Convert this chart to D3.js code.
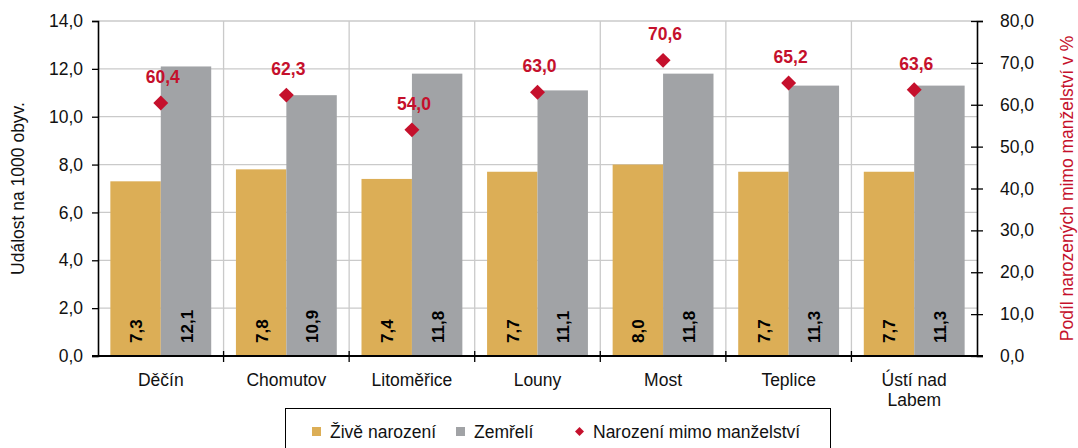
<!DOCTYPE html>
<html><head><meta charset="utf-8">
<script src="https://cdn.jsdelivr.net/npm/d3@7"></script>
<style>
body{margin:0;background:#fff;}
svg{display:block;font-family:"Liberation Sans",Arial,sans-serif;}
</style></head>
<body><svg id="c" width="1078" height="448"></svg>
<script>
const categories = ["Děčín","Chomutov","Litoměřice","Louny","Most","Teplice","Ústí nad Labem"];
const births = [7.3,7.8,7.4,7.7,8.0,7.7,7.7];
const deaths = [12.1,10.9,11.8,11.1,11.8,11.3,11.3];
const outsideMarriage = [60.4,62.3,54.0,63.0,70.6,65.2,63.6];
const leftTicks = [0,2,4,6,8,10,12,14];
const rightTicks = [0,10,20,30,40,50,60,70,80];
const seriesNames = ["Živě narození","Zemřelí","Narození mimo manželství"];

const colGold = "#dcae56", colGray = "#a1a3a6", colRed = "#c5102c";
const fmt = v => v.toFixed(1).replace(".", ",");
const FS = 17.5;

const svg = d3.select("#c");
const L = 98, R = 977, T = 21, B = 356;

const x = d3.scaleBand().domain(categories).range([L, R]).paddingInner(0).paddingOuter(0);
const xs = d3.scaleBand().domain(["b","d"]).range([0, x.bandwidth()]).paddingInner(0).paddingOuter(0.245);
const yL = d3.scaleLinear().domain([0,14]).range([B, T]);
const yR = d3.scaleLinear().domain([0,80]).range([B, T]);

// gridlines
const g = svg.append("g");
g.selectAll("line.h").data(leftTicks.filter(d=>d>0)).join("line")
  .attr("x1", L).attr("x2", R).attr("y1", d=>yL(d)).attr("y2", d=>yL(d))
  .attr("stroke", "#cacaca").attr("stroke-width", 1.3);
g.selectAll("line.v").data(categories.slice(1)).join("line")
  .attr("x1", d=>x(d)).attr("x2", d=>x(d)).attr("y1", T).attr("y2", B)
  .attr("stroke", "#cacaca").attr("stroke-width", 1.3);

// bars
const cg = svg.append("g").selectAll("g").data(categories).join("g")
  .attr("transform", d=>`translate(${x(d)},0)`);
cg.append("rect").attr("x", xs("b")).attr("width", xs.bandwidth())
  .attr("y", (d,i)=>yL(births[i])).attr("height", (d,i)=>B - yL(births[i])).attr("fill", colGold);
cg.append("rect").attr("x", xs("d")).attr("width", xs.bandwidth())
  .attr("y", (d,i)=>yL(deaths[i])).attr("height", (d,i)=>B - yL(deaths[i])).attr("fill", colGray);

// bar labels
function barLabel(key, arr){
  cg.append("text")
    .attr("transform", (d,i)=>`translate(${xs(key)+xs.bandwidth()/2+6.5},${B-13}) rotate(-90)`)
    .attr("text-anchor","start").attr("font-weight","bold").attr("font-size", 17).attr("fill","#000")
    .text((d,i)=>fmt(arr[i]));
}
barLabel("b", births);
barLabel("d", deaths);

// diamonds
const diamond = d3.symbol().type(d3.symbolSquare).size(112);
cg.append("path").attr("d", diamond())
  .attr("transform", (d,i)=>`translate(${x.bandwidth()/2},${yR(outsideMarriage[i])}) rotate(45)`)
  .attr("fill", colRed);
cg.append("text").attr("x", x.bandwidth()/2+2).attr("y", (d,i)=>yR(outsideMarriage[i]) - 20)
  .attr("text-anchor","middle").attr("font-weight","bold").attr("font-size",FS).attr("fill", colRed)
  .text((d,i)=>fmt(outsideMarriage[i]));

// left axis
const axL = svg.append("g").attr("transform",`translate(${L},0)`)
  .call(d3.axisLeft(yL).tickValues(leftTicks).tickFormat(fmt).tickSize(6).tickPadding(9));
axL.select(".domain").attr("stroke","#000").attr("stroke-width",1.6);
axL.selectAll(".tick line").attr("stroke","#000").attr("stroke-width",1.3);
axL.selectAll("text").attr("font-size",FS).attr("fill","#111").attr("font-family","Liberation Sans, Arial, sans-serif");

// right axis
const axR = svg.append("g").attr("transform",`translate(${R},0)`)
  .call(d3.axisRight(yR).tickValues(rightTicks).tickFormat(fmt).tickSize(6).tickPadding(17));
axR.select(".domain").attr("stroke","#000").attr("stroke-width",1.6);
axR.selectAll(".tick line").attr("x1",-6).attr("stroke","#000").attr("stroke-width",1.3);
axR.selectAll("text").attr("font-size",FS).attr("fill","#111").attr("font-family","Liberation Sans, Arial, sans-serif");

// x axis
svg.append("line").attr("x1",L-6).attr("x2",R+6).attr("y1",B).attr("y2",B).attr("stroke","#000").attr("stroke-width",1.8);
svg.append("g").selectAll("line").data(categories.slice(1)).join("line")
  .attr("x1", d=>x(d)).attr("x2", d=>x(d)).attr("y1", B-5).attr("y2", B+6)
  .attr("stroke","#000").attr("stroke-width",1.3);
const xl = svg.append("g").selectAll("text").data(categories).join("text")
  .attr("x", d=>x(d)+x.bandwidth()/2).attr("y", 386)
  .attr("text-anchor","middle").attr("font-size",FS).attr("fill","#111");
xl.each(function(d){
  const t = d3.select(this);
  if (d === "Ústí nad Labem") {
    t.append("tspan").attr("x", x(d)+x.bandwidth()/2).attr("dy",0).text("Ústí nad");
    t.append("tspan").attr("x", x(d)+x.bandwidth()/2).attr("dy",20).text("Labem");
  } else t.text(d);
});

// axis titles
svg.append("text").attr("transform",`translate(24,${(T+B)/2}) rotate(-90)`)
  .attr("text-anchor","middle").attr("font-size",FS).attr("fill","#111").text("Událost na 1000 obyv.");
svg.append("text").attr("transform",`translate(1073,${(T+B)/2}) rotate(-90)`)
  .attr("text-anchor","middle").attr("font-size",FS).attr("fill",colRed).text("Podíl narozených mimo manželství v %");

// legend
const lg = svg.append("g");
lg.append("rect").attr("x",285.5).attr("y",408.5).attr("width",545).attr("height",50)
  .attr("fill","#fff").attr("stroke","#000").attr("stroke-width",1);
const items = [
  {name: seriesNames[0], x: 312, type:"sq", col: colGold},
  {name: seriesNames[1], x: 456, type:"sq", col: colGray},
  {name: seriesNames[2], x: 575, type:"di", col: colRed}
];
items.forEach(it=>{
  if (it.type==="sq") lg.append("rect").attr("x",it.x).attr("y",427).attr("width",9).attr("height",9).attr("fill",it.col);
  else lg.append("path").attr("d", d3.symbol().type(d3.symbolSquare).size(40)())
    .attr("transform",`translate(${it.x+4.5},431.5) rotate(45)`).attr("fill",it.col);
  lg.append("text").attr("x", it.x+18).attr("y",438).attr("font-size",FS).attr("fill","#111").text(it.name);
});
</script></body></html>
